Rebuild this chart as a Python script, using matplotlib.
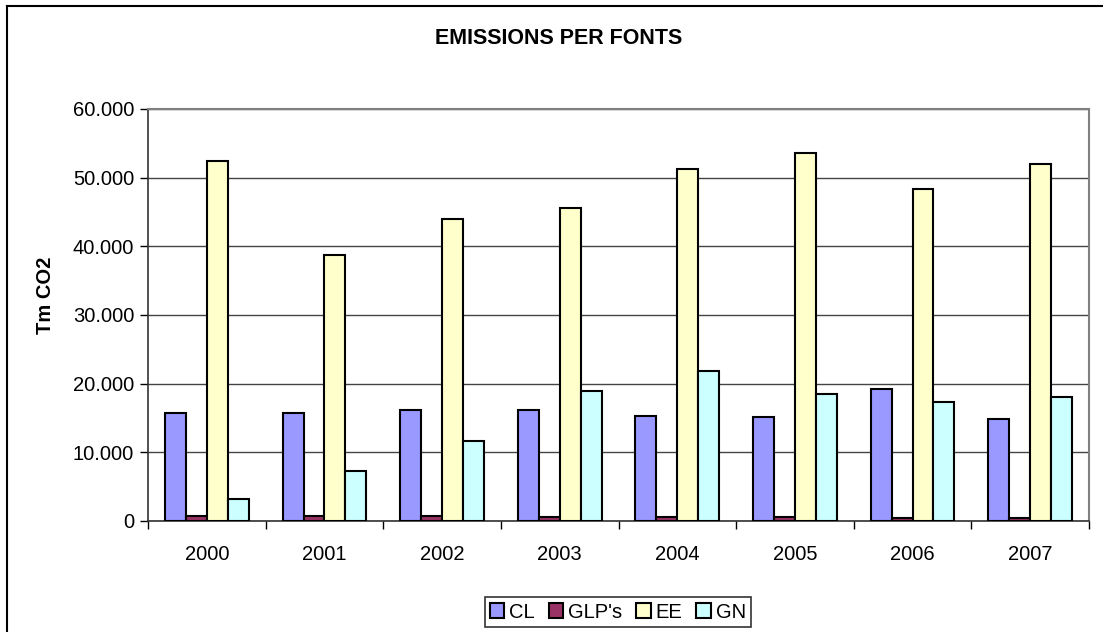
import matplotlib
matplotlib.use("Agg")
import matplotlib.pyplot as plt
from matplotlib.lines import Line2D
from matplotlib.ticker import FuncFormatter, FixedLocator
import numpy as np

plt.rcParams['font.family'] = ['Liberation Sans', 'DejaVu Sans']

years = ['2000', '2001', '2002', '2003', '2004', '2005', '2006', '2007']
cl = [15800, 15800, 16100, 16100, 15300, 15200, 19200, 14900]
glp = [800, 700, 700, 600, 600, 600, 500, 500]
ee = [52400, 38700, 44000, 45600, 51200, 53600, 48400, 52000]
gn = [3200, 7300, 11700, 19000, 21900, 18500, 17300, 18100]

series = [("CL", cl, "#9999FF"), ("GLP's", glp, "#993366"),
          ("EE", ee, "#FFFFCC"), ("GN", gn, "#CCFFFF")]

W, H = 1103, 632
fig = plt.figure(figsize=(W / 100, H / 100), dpi=100)
ax = fig.add_axes([148 / W, 1 - 521 / H, (1089 - 148) / W, (521 - 109) / H])

x = np.arange(len(years)) + 0.5
bw = 0.178
for k, (name, vals, col) in enumerate(series):
    ax.bar(x + (k - 1.5) * bw, vals, width=bw, color=col, edgecolor='black',
           linewidth=1.5, label=name, zorder=3)

ax.set_xlim(0, len(years))
ax.set_ylim(0, 60000)
ax.set_yticks(np.arange(0, 60001, 10000))
ax.yaxis.set_major_formatter(FuncFormatter(lambda v, p: f"{v:,.0f}".replace(",", ".")))
ax.grid(axis='y', color='#444444', linewidth=1, zorder=0)

ax.xaxis.set_major_locator(FixedLocator(np.arange(0, len(years) + 1)))
ax.xaxis.set_major_formatter(FuncFormatter(lambda v, p: ""))
ax.xaxis.set_minor_locator(FixedLocator(x))
ax.set_xticklabels(years, minor=True)
ax.tick_params(axis='x', which='minor', length=0, labelsize=14.5, pad=17)
ax.tick_params(axis='x', which='major', length=6, width=1, color='black', direction='out')
ax.tick_params(axis='y', length=6, width=1, color='black', labelsize=14.5, pad=4)

for s in ['top', 'right']:
    ax.spines[s].set_color('#808080')
    ax.spines[s].set_linewidth(1.5)
ax.spines['left'].set_color('#333333')
ax.spines['bottom'].set_color('#333333')
ax.spines['left'].set_linewidth(1.2)
ax.spines['bottom'].set_linewidth(1.2)

fig.text(559 / W, 1 - 38 / H, "EMISSIONS PER FONTS", ha='center', va='center',
         fontsize=15.5, fontweight='bold')
fig.text(45 / W, 1 - 295 / H, "Tm CO2", ha='center', va='center', rotation=90,
         fontsize=14.5, fontweight='bold')

# outer chart frame (left and top visible)
fig.add_artist(Line2D([7 / W, 7 / W], [0, 1 - 6 / H], transform=fig.transFigure,
                      color='black', linewidth=1.5))
fig.add_artist(Line2D([7 / W, 1], [1 - 6 / H, 1 - 6 / H], transform=fig.transFigure,
                      color='black', linewidth=1.5))

leg = fig.legend(loc='center', bbox_to_anchor=(618 / W, 1 - 612 / H), ncol=4,
                 fontsize=14.5, frameon=True, fancybox=False, edgecolor='black',
                 handlelength=0.7, handleheight=0.7, handletextpad=0.25,
                 columnspacing=0.7, borderpad=0.25, borderaxespad=0)
leg.get_frame().set_linewidth(1.2)

fig.savefig("out.png", dpi=100)
